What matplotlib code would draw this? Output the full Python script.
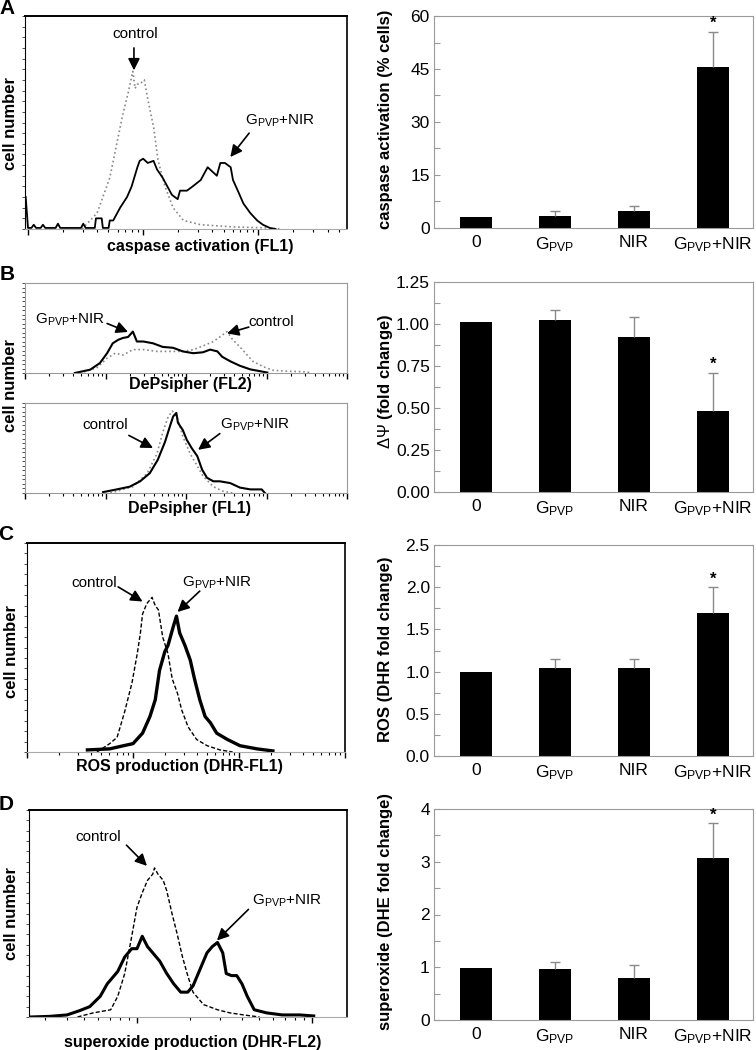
import matplotlib
matplotlib.use('Agg')
from matplotlib import pyplot as plt
from matplotlib.ticker import LogLocator, NullFormatter, FormatStrFormatter, MultipleLocator
import numpy as np

plt.rcParams['font.family'] = ['Liberation Sans', 'DejaVu Sans']
plt.rcParams['mathtext.fontset'] = 'custom'
plt.rcParams['mathtext.rm'] = 'Liberation Sans'
plt.rcParams['mathtext.it'] = 'Liberation Sans:italic'
plt.rcParams['mathtext.bf'] = 'Liberation Sans:bold'

GPVP = r'G$_{\mathrm{PVP}}$'
groups = ['0', GPVP, 'NIR', GPVP + '+NIR']

# bar charts (mean, upper error)
casp_mean = [3.1, 3.5, 4.7, 45.7]
casp_err = [0, 1.2, 1.6, 9.9]
dpsi_mean = [1.01, 1.025, 0.92, 0.485]
dpsi_err = [0, 0.06, 0.12, 0.225]
ros_mean = [1.0, 1.04, 1.04, 1.70]
ros_err = [0, 0.11, 0.11, 0.30]
sox_mean = [0.99, 0.96, 0.80, 3.07]
sox_err = [0, 0.14, 0.25, 0.66]

# histograms: log10 fluorescence / counts (% of axis height)
a_ctrl_log = [0.47, 0.60, 0.71, 0.82, 0.87, 0.91, 0.93, 0.95, 0.97, 1.01, 1.04, 1.09, 1.13, 1.19, 1.26, 1.35, 1.50, 1.78, 2.08, 2.2]
a_ctrl_cnt = [0, 7.5, 24, 53, 64, 74, 66, 68, 68, 70, 61, 48, 32, 20, 10, 4, 2, 1, 0.5, 0]
a_trt_log = [-0.02, 0.0, 0.03, 0.05, 0.07, 0.11, 0.13, 0.15, 0.24, 0.26, 0.28, 0.46, 0.48, 0.50,
             0.58, 0.59, 0.64, 0.65, 0.70, 0.71, 0.74, 0.80, 0.86, 0.90, 0.95, 0.97, 1.0, 1.04,
             1.09, 1.12, 1.17, 1.21, 1.25, 1.30, 1.32, 1.38, 1.43, 1.50, 1.56, 1.60, 1.64, 1.67,
             1.71, 1.76, 1.78, 1.83, 1.87, 1.93, 1.99, 2.04, 2.10, 2.15]
a_trt_cnt = [15, 0.5, 0.5, 2, 0.5, 0.5, 2, 0.5, 0.5, 2.5, 0.5, 0.5, 2.5, 0.5,
             0.5, 5, 5, 0.5, 0.5, 4, 4, 10, 15, 20, 29, 32, 33, 31,
             32, 28, 24, 20, 16, 14, 18, 18, 20, 23, 29, 27, 25, 31,
             31, 29, 23, 17, 12, 7.5, 4, 2, 0.5, 0]

b2_ctrl_log = [0.68, 0.89, 1.02, 1.12, 1.22, 1.34, 1.47, 1.64, 1.80, 1.96, 2.09, 2.21, 2.34, 2.45,
               2.51, 2.58, 2.67, 2.76, 2.83, 2.96, 3.08, 3.25, 3.45, 3.54]
b2_ctrl_cnt = [0, 5.5, 16.5, 22, 20, 26, 26, 24, 24, 24, 26, 30, 35, 42, 46, 37, 29, 20, 13, 7, 3, 2, 1.5, 0.5]
b2_trt_log = [0.62, 0.81, 0.93, 1.02, 1.09, 1.16, 1.22, 1.28, 1.34, 1.39, 1.47, 1.59, 1.71, 1.84,
              1.96, 2.09, 2.21, 2.30, 2.39, 2.45, 2.55, 2.67, 2.80, 2.92, 3.01]
b2_trt_cnt = [0, 3.7, 11, 22, 33, 37, 39, 40, 46, 35, 35, 33, 29, 28, 24, 22, 23, 26, 24, 18, 13, 8, 4, 2, 0.5]

b1_ctrl_log = [1.06, 1.34, 1.52, 1.64, 1.71, 1.78, 1.83, 1.89, 1.96, 2.05, 2.14, 2.21, 2.34, 2.46, 2.58]
b1_ctrl_cnt = [0, 7, 22, 44, 67, 85, 91, 85, 63, 44, 30, 19, 7, 2, 0]
b1_trt_log = [0.97, 1.14, 1.30, 1.43, 1.55, 1.65, 1.74, 1.80, 1.84, 1.88, 1.90, 1.96, 2.01, 2.07,
              2.14, 2.20, 2.26, 2.34, 2.42, 2.55, 2.67, 2.80, 2.94, 2.98]
b1_trt_cnt = [1, 4, 7, 13, 22, 37, 57, 74, 85, 89, 78, 70, 59, 50, 41, 26, 17, 13, 13, 11, 6, 4, 4, 0]

c_ctrl_log = [0.66, 0.78, 0.85, 0.92, 0.99, 1.04, 1.07, 1.09, 1.13, 1.18, 1.21, 1.24, 1.28, 1.33,
              1.37, 1.42, 1.46, 1.52, 1.60, 1.70, 1.82, 1.94]
c_ctrl_cnt = [0, 4, 7, 19, 33, 47, 57, 66, 71, 74, 70, 68, 55, 47, 35, 28, 20, 12, 6, 3, 1, 0]
c_trt_log = [0.57, 0.78, 0.91, 1.0, 1.09, 1.16, 1.21, 1.25, 1.30, 1.33, 1.38, 1.41, 1.44, 1.49,
             1.54, 1.58, 1.63, 1.68, 1.73, 1.79, 1.89, 2.01, 2.17, 2.32]
c_trt_cnt = [1, 1.5, 3, 4, 9, 17, 25, 39, 48, 51, 60, 65, 57, 51, 44, 35, 25, 17, 14, 9, 6, 3, 1.5, 0.5]

d_ctrl_log = [0.66, 0.75, 0.85, 0.89, 0.93, 0.97, 1.0, 1.03, 1.06, 1.09, 1.10, 1.12, 1.15, 1.17,
              1.20, 1.23, 1.26, 1.29, 1.32, 1.38, 1.46, 1.53, 1.61, 1.70]
d_ctrl_cnt = [0, 2, 3.5, 10, 21, 39, 53, 60, 66, 69, 72, 69, 66, 61, 50, 40, 29, 20, 12, 6, 3.5, 2, 1, 0]
d_trt_log = [0.39, 0.50, 0.60, 0.67, 0.73, 0.79, 0.83, 0.89, 0.93, 0.97, 1.0, 1.03, 1.06, 1.09,
             1.13, 1.17, 1.21, 1.25, 1.29, 1.32, 1.36, 1.40, 1.43, 1.46, 1.49, 1.51, 1.54, 1.57,
             1.60, 1.63, 1.67, 1.74, 1.83, 1.93, 2.01]
d_trt_cnt = [0, 0.3, 1, 3, 5, 10, 16, 22, 29, 33, 33, 39, 34, 31,
             27, 21, 16, 12, 12, 15, 23, 31, 34, 36, 31, 21, 20, 20,
             16, 10, 3.5, 2, 1, 1, 0.5]

W, H = 756, 1050
fig = plt.figure(figsize=(W / 100, H / 100), dpi=100)


def px_axes(x0, y0, x1, y1):
    return fig.add_axes([x0 / W, 1 - y1 / H, (x1 - x0) / W, (y1 - y0) / H])


def ftext(x, y, s, **kw):
    fig.text(x / W, 1 - y / H, s, **kw)


def hist_axes(rect, xlo, xhi, dark=True):
    ax = px_axes(*rect)
    ax.set_xscale('log')
    ax.set_xlim(10 ** xlo, 10 ** xhi)
    ax.set_ylim(0, 100)
    ax.xaxis.set_major_locator(LogLocator(base=10))
    ax.xaxis.set_minor_locator(LogLocator(base=10, subs=range(2, 10)))
    ax.xaxis.set_major_formatter(NullFormatter())
    ax.xaxis.set_minor_formatter(NullFormatter())
    ax.yaxis.set_major_locator(MultipleLocator(20))
    ax.yaxis.set_minor_locator(MultipleLocator(5))
    ax.yaxis.set_major_formatter(NullFormatter())
    ax.tick_params(axis='x', which='major', length=4, width=1, direction='out', color='black')
    ax.tick_params(axis='x', which='minor', length=2.5, width=0.8, direction='out', color='black')
    ax.tick_params(axis='y', which='both', length=2, width=0.6, direction='out', color='#333333')
    ax.spines['bottom'].set_color('#aaaaaa')
    if dark:
        ax.spines['top'].set_linewidth(1.4)
        ax.spines['right'].set_linewidth(1.2)
        ax.spines['left'].set_linewidth(0.8)
    else:
        for s in ax.spines.values():
            s.set_color('#999999')
            s.set_linewidth(0.8)
    return ax


def arrow(ax, tip, tail):
    ax.annotate('', xy=(10 ** tip[0], tip[1]), xytext=(10 ** tail[0], tail[1]),
                arrowprops=dict(arrowstyle='-|>,head_length=0.7,head_width=0.35',
                                color='black', lw=1.2, shrinkA=0, shrinkB=0))


def bar_axes(rect, mean, err, ymax, ystep, fmt):
    ax = px_axes(*rect)
    x = np.arange(len(groups))
    mean = np.array(mean)
    err = np.array(err)
    ax.bar(x, mean, width=0.4, color='black', zorder=2)
    m = err > 0
    top = mean + err
    ax.vlines(x[m], mean[m], top[m], color='#8a8a8a', lw=1, zorder=3)
    ax.hlines(top[m], x[m] - 0.065, x[m] + 0.065, color='#8a8a8a', lw=1, zorder=3)
    ax.text(3, top[3] + ymax * 0.003, '*', ha='center', va='bottom',
            fontsize=12, fontweight='bold')
    ax.set_xlim(-0.53, 3.51)
    ax.set_ylim(0, ymax)
    ax.set_xticks(x)
    ax.set_xticklabels(groups, fontsize=12.5)
    ax.yaxis.set_major_locator(MultipleLocator(ystep))
    ax.yaxis.set_minor_locator(MultipleLocator(ystep / 2))
    ax.yaxis.set_major_formatter(FormatStrFormatter(fmt))
    ax.tick_params(axis='y', which='both', direction='in', length=4, width=0.8, color='#999999',
                   labelsize=12.5, pad=3)
    ax.tick_params(axis='x', length=0, pad=5)
    for s in ax.spines.values():
        s.set_color('#9a9a9a')
        s.set_linewidth(0.8)
    return ax


LBL = dict(ha='center', va='center', fontsize=11.5, fontweight='bold')
YLBL = dict(ha='center', va='center', rotation=90, fontsize=12, fontweight='bold')
LET = dict(ha='center', va='center', fontsize=15, fontweight='bold')

# ---- A ----
ax = hist_axes((25, 16, 347, 229), -0.026, 2.77)
ax.plot(10 ** np.array(a_ctrl_log), a_ctrl_cnt, color='#888888', lw=1.2, ls=':')
ax.plot(10 ** np.array(a_trt_log), a_trt_cnt, color='black', lw=1.3)
ax.text(10 ** 0.93, 91.5, 'control', ha='center', va='center', fontsize=11)
arrow(ax, (0.92, 74.5), (0.92, 85))
ax.text(10 ** 1.887, 51, GPVP + '+NIR', ha='left', va='center', fontsize=11)
arrow(ax, (1.757, 33.8), (1.92, 45))
ftext(200, 246, 'caspase activation (FL1)', **LBL)
ftext(11, 124, 'cell number', **YLBL)
ftext(7, 9, 'A', **LET)

bar_axes((434, 16, 753, 228), casp_mean, casp_err, 60, 15, '%d')
ftext(385, 119, 'caspase activation (% cells)', **YLBL)

# ---- B ----
ax = hist_axes((25, 283, 347, 373), 0, 4, dark=False)
ax.plot(10 ** np.array(b2_ctrl_log), b2_ctrl_cnt, color='#888888', lw=1.2, ls=':')
ax.plot(10 ** np.array(b2_trt_log), b2_trt_cnt, color='black', lw=1.5)
ax.text(10 ** 0.124, 59, GPVP + '+NIR', ha='left', va='center', fontsize=11)
arrow(ax, (1.28, 45.6), (1.02, 55))
ax.text(10 ** 3.06, 57, 'control', ha='center', va='center', fontsize=11)
arrow(ax, (2.51, 44), (2.78, 51))
ftext(190, 385, 'DePsipher (FL2)', **LBL)

ax = hist_axes((25, 403, 347, 493), 0, 4, dark=False)
ax.plot(10 ** np.array(b1_ctrl_log), b1_ctrl_cnt, color='#888888', lw=1.2, ls=':')
ax.plot(10 ** np.array(b1_trt_log), b1_trt_cnt, color='black', lw=1.5)
ax.text(10 ** 0.99, 75.5, 'control', ha='center', va='center', fontsize=11)
arrow(ax, (1.59, 50), (1.29, 64))
ax.text(10 ** 2.42, 75.5, GPVP + '+NIR', ha='left', va='center', fontsize=11)
arrow(ax, (2.15, 48), (2.42, 66))
ftext(190, 508, 'DePsipher (FL1)', **LBL)
ftext(11, 385, 'cell number', **YLBL)
ftext(7, 275, 'B', **LET)

bar_axes((434, 282, 753, 492), dpsi_mean, dpsi_err, 1.25, 0.25, '%.2f')
ftext(385, 381, r'$\Delta\Psi$ (fold change)', **YLBL)

# ---- C ----
ax = hist_axes((27, 543, 345, 752), 0, 3)
ax.plot(10 ** np.array(c_ctrl_log), c_ctrl_cnt, color='black', lw=1, ls=(0, (3, 1.5)))
ax.plot(10 ** np.array(c_trt_log), c_trt_cnt, color='black', lw=2.4)
ax.text(10 ** 0.63, 81, 'control', ha='center', va='center', fontsize=11)
arrow(ax, (1.09, 72), (0.86, 79))
ax.text(10 ** 1.46, 81, GPVP + '+NIR', ha='left', va='center', fontsize=11)
arrow(ax, (1.42, 67), (1.63, 77))
ftext(179, 767, 'ROS production (DHR-FL1)', **LBL)
ftext(12, 652, 'cell number', **YLBL)
ftext(6, 535, 'C', **LET)

bar_axes((434, 545, 753, 756), ros_mean, ros_err, 2.5, 0.5, '%.1f')
ftext(385, 649, 'ROS (DHR fold change)', **YLBL)

# ---- D ----
ax = hist_axes((29, 810, 347, 1017), 0.383, 2.2)
ax.plot(10 ** np.array(d_ctrl_log), d_ctrl_cnt, color='black', lw=1, ls=(0, (3, 1.5)))
ax.plot(10 ** np.array(d_trt_log), d_trt_cnt, color='black', lw=2.2)
ax.text(10 ** 0.777, 87, 'control', ha='center', va='center', fontsize=11)
arrow(ax, (1.057, 73), (0.94, 83))
ax.text(10 ** 1.657, 56, GPVP + '+NIR', ha='left', va='center', fontsize=11)
arrow(ax, (1.457, 37), (1.637, 52))
ftext(193, 1043, 'superoxide production (DHR-FL2)', **LBL)
ftext(12, 914, 'cell number', **YLBL)
ftext(6, 805, 'D', **LET)

bar_axes((434, 809, 753, 1020), sox_mean, sox_err, 4, 1, '%d')
ftext(385, 911, 'superoxide (DHE fold change)', **YLBL)

plt.savefig('out.png', dpi=100)
